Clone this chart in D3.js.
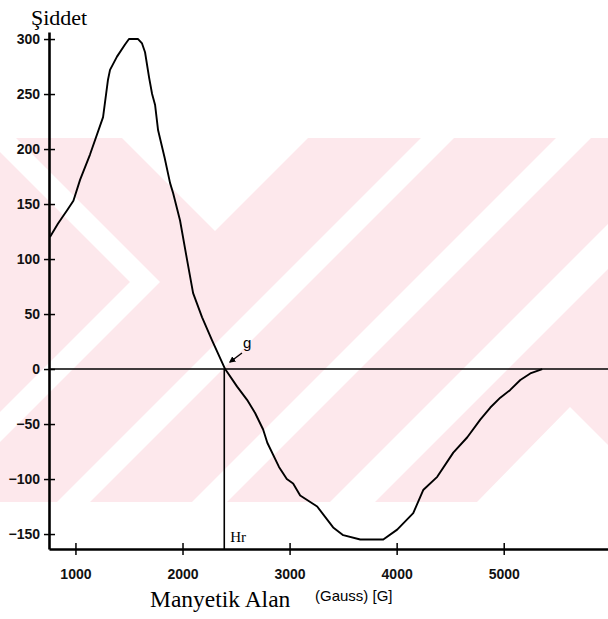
<!DOCTYPE html>
<html>
<head>
<meta charset="utf-8">
<script src="https://cdn.jsdelivr.net/npm/d3@7"></script>
<style>
  body { margin: 0; background: #fff; }
  svg { display: block; }
</style>
</head>
<body>
<svg width="608" height="619"></svg>
<script>
// field (G) and intensity
var field = [762, 836, 927, 981, 1043, 1136, 1258, 1304, 1323, 1388, 1463, 1500, 1585, 1622, 1650,
             1688, 1716, 1744, 1772, 1833, 1884, 1912, 1977, 2043, 2099, 2183, 2276, 2398, 2510, 2603,
             2678, 2753, 2792, 2901, 2974, 3033, 3099, 3258, 3407, 3501, 3660, 3875, 4005, 4155, 4248,
             4379, 4529, 4660, 4781, 4875, 4968, 5061, 5155, 5248, 5360]
var intensity = [120, 132, 145, 153, 172, 195, 229, 263, 272, 284, 295, 300, 300, 296, 288,
                 265, 250, 240, 217, 192, 169, 160, 135, 99, 69, 47, 26, 0, -16, -28,
                 -40, -55, -67, -89, -100, -104, -115, -125, -144, -151, -155, -155, -146, -131, -110,
                 -98, -76, -62, -46, -35, -26, -19, -10, -4, 0]
var xTicks = [1000, 2000, 3000, 4000, 5000]
var yTicks = [300, 250, 200, 150, 100, 50, 0, -50, -100, -150]
var hr = 2390

// background watermark of the scanned page (pixel shapes, not data)
var band = {top: 138, bottom: 502}
var whiteShapes = [
    [[122,138],[308,138],[215,231]],
    [[0,138],[16,138],[160,282],[0,442],[0,412],[130,282],[0,152]],
    [[57,502],[90,502],[454,138],[421,138]],
    [[192,502],[227,502],[591,138],[556,138]],
    [[330,502],[375,502],[608,269],[608,224]],
    [[477,502],[570,407],[608,445],[608,502]]
]

var svg = d3.select("svg")

svg.append("rect")
    .attr("x",0).attr("y",band.top)
    .attr("width",608).attr("height",band.bottom-band.top)
    .attr("fill","#fde8ec")

svg.selectAll(".wm")
    .data(whiteShapes)
    .enter()
    .append("polygon")
    .attr("class","wm")
    .attr("points",function(p){return p.map(function(q){return q.join(",")}).join(" ")})
    .attr("fill","#fff")

var xScale = d3.scaleLinear()
                .domain([753, 5974])
                .range([49, 608])

var yScale = d3.scaleLinear()
                .domain([-163.6, 306.4])
                .range([549, 32])

// zero line and Hr marker
svg.append("line")
    .attr("x1",xScale(753)).attr("x2",608)
    .attr("y1",yScale(0)).attr("y2",yScale(0))
    .attr("stroke","#000").attr("stroke-width",1.6)

svg.append("line")
    .attr("x1",xScale(hr)).attr("x2",xScale(hr))
    .attr("y1",yScale(0)).attr("y2",yScale(-163.6))
    .attr("stroke","#000").attr("stroke-width",1.6)

var xAxis = d3.axisBottom(xScale)
                .tickValues(xTicks)
                .tickSizeInner(6)
                .tickSizeOuter(0)
                .tickPadding(14)
                .tickFormat(d3.format("d"))

var yAxis = d3.axisLeft(yScale)
                .tickValues(yTicks)
                .tickSizeInner(5)
                .tickSizeOuter(0)
                .tickPadding(4)
                .tickFormat(d3.format("d"))

var gx = svg.append("g")
    .attr("transform","translate(0,549)")
    .call(xAxis)

var gy = svg.append("g")
    .attr("transform","translate(49,0)")
    .call(yAxis)

// ticks cross the axis line
gx.selectAll(".tick line").attr("y1",-6).attr("stroke-width",1.5)
gy.selectAll(".tick line").attr("x1",6).attr("stroke-width",1.5)
gx.select(".domain").attr("stroke-width",2.6)
gy.select(".domain").attr("stroke-width",2.6)

svg.selectAll(".tick text")
    .attr("font-family","Liberation Sans, Arial, sans-serif")
    .attr("font-size",14)
    .attr("font-weight","bold")
    .attr("fill","#111")

var lineGenerator = d3.line()
    .x(function(d,i){return xScale(field[i])})
    .y(function(d){return yScale(d)})

svg.append("path")
    .attr("d",lineGenerator(intensity))
    .attr("fill","none")
    .attr("stroke","#000")
    .attr("stroke-width",1.9)
    .attr("stroke-linejoin","round")

// labels
svg.append("text")
    .attr("x",31).attr("y",25)
    .attr("font-family","Liberation Serif, Times New Roman, serif")
    .attr("font-size",22)
    .text("Şiddet")

svg.append("text")
    .attr("x",150).attr("y",607)
    .attr("font-family","Liberation Serif, Times New Roman, serif")
    .attr("font-size",23.5)
    .text("Manyetik Alan")

svg.append("text")
    .attr("x",315).attr("y",601)
    .attr("font-family","Liberation Sans, Arial, sans-serif")
    .attr("font-size",15)
    .text("(Gauss) [G]")

svg.append("text")
    .attr("x",xScale(hr)+6).attr("y",542)
    .attr("font-family","Liberation Serif, Times New Roman, serif")
    .attr("font-size",15)
    .text("Hr")

svg.append("text")
    .attr("x",243).attr("y",348)
    .attr("font-family","Liberation Sans, Arial, sans-serif")
    .attr("font-size",15)
    .text("g")

svg.append("defs").append("marker")
    .attr("id","arrow")
    .attr("viewBox","0 0 10 10")
    .attr("refX",8).attr("refY",5)
    .attr("markerWidth",5).attr("markerHeight",5)
    .attr("orient","auto")
    .append("path")
    .attr("d","M0,0L10,5L0,10z")
    .attr("fill","#000")

svg.append("line")
    .attr("x1",242).attr("y1",353)
    .attr("x2",230).attr("y2",362)
    .attr("stroke","#000").attr("stroke-width",1.3)
    .attr("marker-end","url(#arrow)")
</script>
</body>
</html>
